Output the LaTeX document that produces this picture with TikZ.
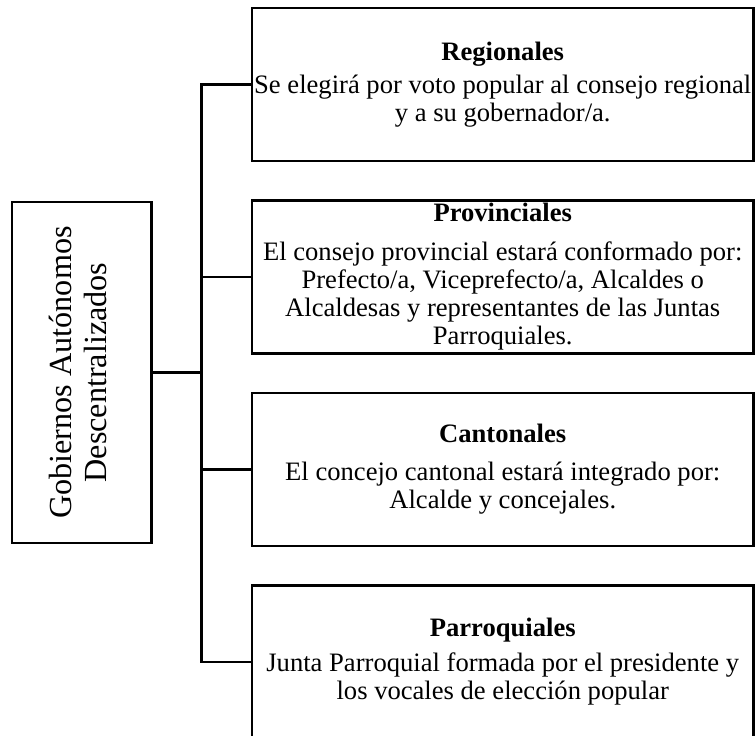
\documentclass[tikz,border=0pt]{standalone}
\usepackage{fontspec}
\setmainfont{Liberation Serif}
\usepackage{tikz}
\usetikzlibrary{positioning}
\tikzstyle{block} = [rectangle, draw, line width=2.2pt, outer sep=0pt, inner sep=0pt,
    align=center, minimum width=501.5pt, minimum height=153pt,
    font=\fontsize{26.6}{28}\selectfont]
\tikzstyle{block_main} = [rectangle, draw, line width=2.2pt, outer sep=0pt, inner sep=0pt,
    minimum width=139.5pt, minimum height=341pt,
    font=\fontsize{32.2}{35}\selectfont]
\tikzstyle{line} = [draw, line width=2.2pt]

\begin{document}
\begin{tikzpicture}[x=1pt, y=1pt, node distance = 39.5pt]
    \useasboundingbox (0,0) rectangle (756,736);
    % Place nodes
    \node [block_main] (gad) at (81.75,363.5)
        {\rotatebox{90}{\begin{tabular}{@{}c@{}}Gobiernos Autónomos\\Descentralizados\end{tabular}}};
    \coordinate [right=50pt of gad.east] (fork);

    \node [block] (reg) at (502.75,651.5) {\textbf{Regionales}\\[5pt]
        Se elegirá por voto popular al consejo regional\\ y a su gobernador/a.};
    \node [block, below=of reg] (prov) {\textbf{Provinciales}\\[11pt]
        El consejo provincial estará conformado por:\\ Prefecto/a, Viceprefecto/a, Alcaldes o\\
        Alcaldesas y representantes de las Juntas\\ Parroquiales.};
    \node [block, below=of prov] (cant) {\textbf{Cantonales}\\[10pt]
        El concejo cantonal estará integrado por:\\ Alcalde y concejales.};
    \node [block, below=of cant] (parr) {\textbf{Parroquiales}\\[7pt]
        Junta Parroquial formada por el presidente y\\ los vocales de elección popular};

    % Draw edges
    \path [line] (gad) -- (fork);
    \path [line] (reg.west) -| (fork) |- (parr.west);
    \path [line] (prov.west) -| (fork) |- (cant.west);
\end{tikzpicture}
\end{document}
